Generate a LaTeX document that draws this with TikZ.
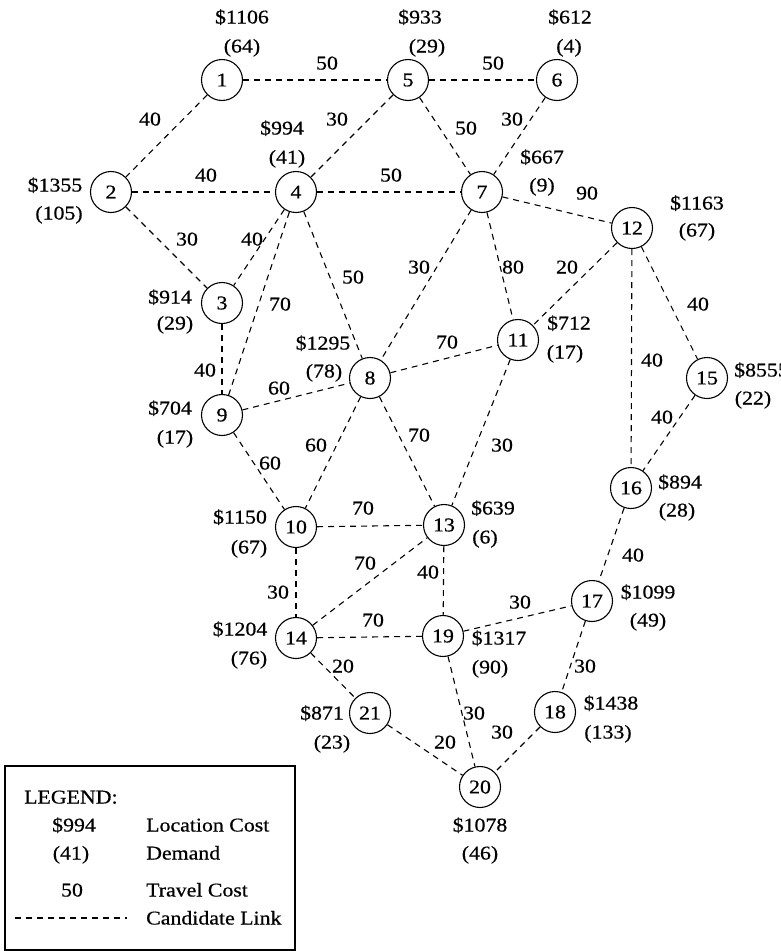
\documentclass[tikz,border=0pt]{standalone}
\usepackage{fontspec}
\setmainfont{Liberation Serif}[FakeStretch=1.12,FakeBold=0.6]
\begin{document}
\begin{tikzpicture}[x=1pt,y=-1pt,
  site/.style={circle,draw,line width=1.1pt,minimum size=41pt,inner sep=0pt,
    font=\fontsize{19.5}{21}\selectfont},
  link/.style={dash pattern=on 6pt off 5pt,line width=1.1pt},
  lbl/.style={inner sep=0pt,text height=13pt,text depth=0pt,
    font=\fontsize{19.5}{21}\selectfont},
  lbll/.style={lbl,anchor=west},
]
\useasboundingbox (0,0) rectangle (781,951);
\clip (0,0) rectangle (781,951);

% candidate sites
\node[site] (n1)  at (222,80)  {1};
\node[site] (n2)  at (111,192) {2};
\node[site] (n3)  at (222,303) {3};
\node[site] (n4)  at (296,192) {4};
\node[site] (n5)  at (408,80)  {5};
\node[site] (n6)  at (557,80)  {6};
\node[site] (n7)  at (482,192) {7};
\node[site] (n8)  at (370,378) {8};
\node[site] (n9)  at (222,415) {9};
\node[site] (n10) at (296,527) {10};
\node[site] (n11) at (518,340) {11};
\node[site] (n12) at (632,228) {12};
\node[site] (n13) at (444,525) {13};
\node[site] (n14) at (296,638) {14};
\node[site] (n15) at (707,378) {15};
\node[site] (n16) at (631,488) {16};
\node[site] (n17) at (592,601) {17};
\node[site] (n18) at (555,712) {18};
\node[site] (n19) at (443,636) {19};
\node[site] (n20) at (480,787) {20};
\node[site] (n21) at (370,713) {21};

% candidate links
\foreach \a/\b in {1/5,5/6,1/2,5/4,5/7,6/7,2/4,4/7,7/12,2/3,4/3,4/9,4/8,7/8,
  7/11,12/11,12/15,12/16,3/9,8/11,9/8,15/16,8/10,8/13,11/13,9/10,10/13,16/17,
  14/13,13/19,10/14,19/17,14/19,17/18,14/21,19/20,18/20,21/20}
  \draw[link] (n\a) -- (n\b);

% location cost and demand
\node[lbl] (c1)  at (242,17)  {\$1106};  \node[lbl] (d1)  at (242,46)  {(64)};
\node[lbl] (c5)  at (420,17)  {\$933};   \node[lbl] (d5)  at (427,46)  {(29)};
\node[lbl] (c6)  at (570,17)  {\$612};   \node[lbl] (d6)  at (569,46)  {(4)};
\node[lbl] (c4)  at (282,128) {\$994};   \node[lbl] (d4)  at (287,157) {(41)};
\node[lbl] (c2)  at (55,185)  {\$1355};  \node[lbl] (d2)  at (59,213)  {(105)};
\node[lbl] (c3)  at (170,297) {\$914};   \node[lbl] (d3)  at (175,323) {(29)};
\node[lbl] (c7)  at (542,157) {\$667};   \node[lbl] (d7)  at (542,185) {(9)};
\node[lbl] (c12) at (697,203) {\$1163};  \node[lbl] (d12) at (697,230) {(67)};
\node[lbl] (c8)  at (323,343) {\$1295};  \node[lbl] (d8)  at (324,371) {(78)};
\node[lbl] (c9)  at (170,408) {\$704};   \node[lbl] (d9)  at (175,437) {(17)};
\node[lbl] (c10) at (240,517) {\$1150};  \node[lbl] (d10) at (249,547) {(67)};
\node[lbl] (c11) at (569,323) {\$712};   \node[lbl] (d11) at (565,352) {(17)};
\node[lbll] (c15) at (734,370) {\$8555}; \node[lbl] (d15) at (753,398) {(22)};
\node[lbl] (c16) at (680,482) {\$894};   \node[lbl] (d16) at (677,510) {(28)};
\node[lbl] (c13) at (493,508) {\$639};   \node[lbl] (d13) at (485,537) {(6)};
\node[lbl] (c14) at (240,629) {\$1204};  \node[lbl] (d14) at (249,658) {(76)};
\node[lbl] (c21) at (322,713) {\$871};   \node[lbl] (d21) at (332,742) {(23)};
\node[lbl] (c19) at (499,638) {\$1317};  \node[lbl] (d19) at (490,667) {(90)};
\node[lbl] (c17) at (648,592) {\$1099};  \node[lbl] (d17) at (648,620) {(49)};
\node[lbl] (c18) at (611,703) {\$1438};  \node[lbl] (d18) at (608,732) {(133)};
\node[lbl] (c20) at (480,825) {\$1078};  \node[lbl] (d20) at (480,853) {(46)};

% travel costs
\foreach \x/\y/\t [count=\i] in {327/63/50, 493/63/50, 150/119/40, 337/119/30,
  466/128/50, 512/119/30, 206/175/40, 391/175/50, 587/193/90, 187/239/30,
  252/239/40, 280/304/70, 353/277/50, 419/267/30, 513/267/80, 567/267/20,
  698/304/40, 652/360/40, 205/370/40, 447/342/70, 279/388/60, 662/417/40,
  316/445/60, 419/435/70, 502/445/30, 270/463/60, 363/508/70, 633/555/40,
  365/563/70, 428/572/40, 278/592/30, 520/602/30, 373/620/70, 585/666/30,
  343/666/20, 474/713/30, 502/732/30, 445/742/20}
  \node[lbl] (t\i) at (\x,\y) {\t};

% legend
\draw[line width=1.1pt] (5,766) rectangle (295,950);
\node[lbll] (lg)  at (24,797)  {LEGEND:};
\node[lbl]  (lc)  at (74,825)  {\$994};
\node[lbll] (lct) at (146,825) {Location Cost};
\node[lbl]  (ld)  at (71,853)  {(41)};
\node[lbll] (ldt) at (146,853) {Demand};
\node[lbl]  (lt)  at (72,890)  {50};
\node[lbll] (ltt) at (146,890) {Travel Cost};
\coordinate (la) at (15,918);
\coordinate (lb) at (127,918);
\draw[link] (la) -- (lb);
\node[lbll] (llt) at (146,918) {Candidate Link};
\end{tikzpicture}
\end{document}
